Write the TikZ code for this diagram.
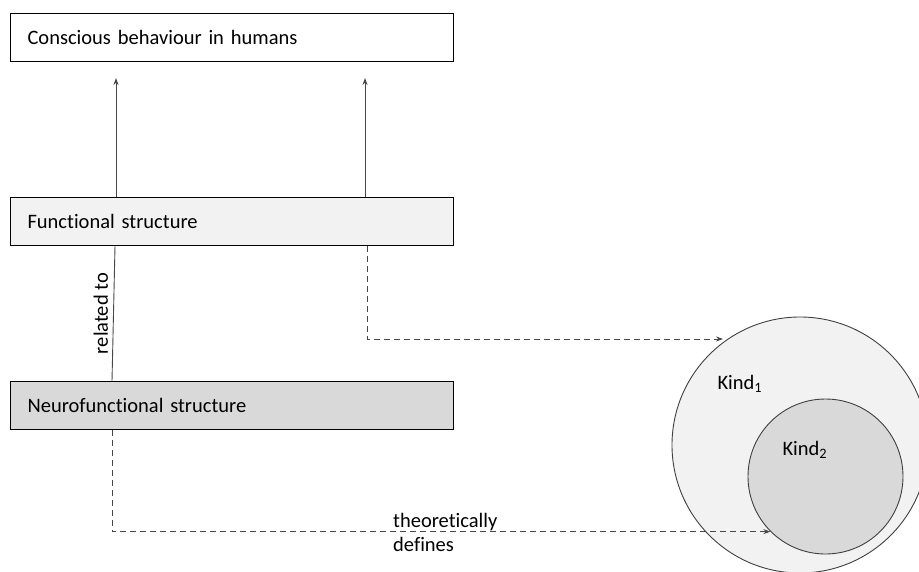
\documentclass[tikz,border=0pt]{standalone}
\usepackage{fontspec}
\setmainfont{Carlito}[Ligatures=NoCommon]
\usetikzlibrary{arrows.meta}
\begin{document}
\begin{tikzpicture}[x=1pt,y=1pt,
  every node/.style={font=\fontsize{20.5}{24}\selectfont},
  boxnode/.style={draw=black,line width=1.1pt,minimum width=443pt,minimum height=48pt,
    text width=409pt,inner xsep=17pt,align=left,anchor=north west},
  conn/.style={draw=black!72,line width=0.9pt},
  tip/.style={-{Stealth[length=7pt,width=5pt]}},
  dashconn/.style={conn,dash pattern=on 6pt off 4pt},
  kindcircle/.style={circle,draw=black!75,line width=0.9pt}]
\useasboundingbox (0,0) rectangle (919,-571);
% boxes
\node[boxnode,fill=white] (conscious) at (10,-13) {Conscious behaviour in humans};
\node[boxnode,fill=black!5] (functional) at (10,-197) {Functional structure};
\node[boxnode,fill=black!15] (neuro) at (10,-381) {Neurofunctional structure};
% circles
\node[kindcircle,fill=black!5,minimum size=256pt] (kind1) at (800,-445) {};
\node[kindcircle,fill=black!15,minimum size=155pt] (kind2) at (825.5,-476.5) {};
\node[anchor=west] (k1label) at (714,-384) {Kind\textsubscript{1}};
\node[anchor=west] (k2label) at (779,-450) {Kind\textsubscript{2}};
% coordinates
\coordinate (up1) at (116,-78);
\coordinate (up2) at (365,-78);
\coordinate (rel1) at (115,-246);
\coordinate (rel2) at (112,-381);
\coordinate (d1) at (367,-246);
\coordinate (d2) at (112,-429);
\coordinate (k1hit) at (723,-339);
% arrows up
\draw[conn,tip] (functional.north -| up1) -- (up1);
\draw[conn,tip] (functional.north -| up2) -- (up2);
% related to
\draw[conn] (rel1) -- (rel2)
  node[midway,rotate=90,anchor=south,inner sep=5pt] (rellabel) {related to};
% dashed connectors
\draw[dashconn,tip] (functional.south -| d1) |- (k1hit);
\draw[dashconn,tip] (neuro.south -| d2) |- (kind2.225);
\node[anchor=south west,inner sep=0pt,align=left] (thlabel) at (393,-531) {theoretically};
\node[anchor=north west,inner sep=0pt,align=left] (deflabel) at (393,-537) {defines};
\end{tikzpicture}
\end{document}
